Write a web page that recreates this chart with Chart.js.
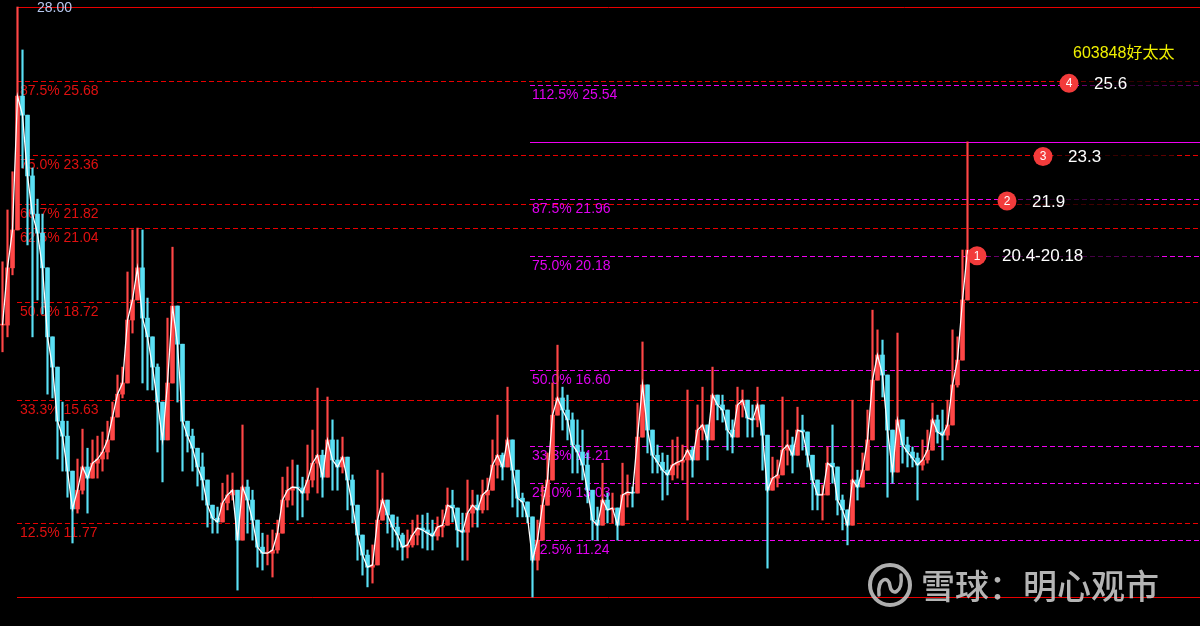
<!DOCTYPE html>
<html><head><meta charset="utf-8">
<script src="https://cdn.jsdelivr.net/npm/chart.js@4.4.1/dist/chart.umd.min.js"></script>
<style>html,body{margin:0;padding:0;background:#000;overflow:hidden;}canvas{display:block;}</style>
</head><body>
<canvas id="c" width="1200" height="626"></canvas>
<script>
const closes=[18.00,19.80,20.99,25.20,24.60,22.69,21.49,20.89,19.80,17.63,
16.68,14.98,14.51,13.41,12.22,12.81,13.54,13.19,13.66,13.79,
14.01,14.39,15.11,15.83,16.18,18.16,18.79,19.80,18.22,17.63,
16.68,15.58,14.39,16.18,18.60,17.40,14.98,14.51,14.13,13.54,
13.13,12.34,11.93,11.81,12.41,12.66,12.81,11.24,12.91,12.50,
11.87,11.02,10.83,10.83,10.93,11.46,12.50,12.81,12.91,12.88,
12.72,13.13,13.66,13.91,13.22,14.39,13.76,13.54,13.85,13.13,
12.34,11.40,10.77,10.39,10.46,11.87,12.50,12.03,11.65,11.40,
11.02,11.09,11.40,11.62,11.56,11.46,11.37,11.65,11.71,12.34,
12.25,11.56,11.49,12.09,12.34,12.19,12.66,12.81,13.60,13.91,
13.54,14.39,13.44,12.56,12.44,11.97,10.61,11.24,12.34,13.13,
15.17,15.71,15.33,15.02,14.23,14.01,13.60,12.81,11.87,11.71,
12.50,12.19,12.25,11.71,12.66,12.75,12.72,14.48,16.12,14.70,
13.91,13.69,13.44,13.29,13.60,13.69,13.76,14.07,13.76,14.70,
14.86,14.39,15.80,15.49,15.33,14.70,14.48,15.49,15.64,15.08,
15.02,15.49,14.54,12.81,13.19,13.29,14.07,14.23,13.91,14.70,
14.64,13.91,13.13,12.66,12.66,13.66,13.54,12.50,12.19,11.71,
13.13,12.91,13.44,14.39,16.27,17.06,16.43,14.70,13.38,15.02,
14.23,14.01,13.82,13.60,13.76,14.07,15.02,14.64,14.54,14.86,
16.12,16.90,18.79,20.36];
const highs=[19.99,21.62,22.82,28.00,26.65,23.76,22.94,21.96,21.49,18.60,
17.63,15.71,15.58,14.98,13.19,13.79,14.73,14.13,14.39,14.51,
14.64,14.98,15.58,16.43,16.68,19.67,20.99,21.05,20.99,18.85,
17.03,16.78,15.58,18.22,20.45,18.60,15.58,14.98,14.73,14.01,
13.98,12.81,12.28,12.28,13.03,13.29,13.35,12.09,14.86,13.13,
12.81,11.56,11.46,11.40,11.56,11.87,13.22,13.54,13.76,13.60,
13.22,14.23,14.70,16.02,14.07,15.74,15.02,14.39,14.48,13.76,
13.29,11.87,11.24,10.93,11.09,13.44,13.35,12.50,12.03,11.97,
11.46,11.56,11.87,12.03,12.03,12.09,11.87,11.97,12.19,12.88,
12.81,12.09,12.09,13.13,12.81,12.66,13.13,13.19,14.39,15.17,
13.98,16.05,14.17,12.81,12.72,12.28,11.65,11.87,12.97,13.98,
16.18,17.37,16.05,15.80,15.24,15.02,14.70,13.98,12.28,12.28,
13.66,12.72,12.72,12.09,13.66,13.29,12.91,15.55,17.47,15.55,
14.29,14.23,13.98,13.91,14.39,14.48,14.23,15.96,14.17,15.49,
16.05,14.70,16.68,15.74,15.80,15.17,15.02,16.05,15.96,15.55,
15.49,16.05,15.33,13.98,13.85,13.76,15.74,14.70,14.48,15.42,
15.17,14.48,13.60,13.13,12.97,14.17,14.86,12.81,12.66,12.09,
15.64,13.44,13.98,15.33,18.47,17.85,17.53,16.27,13.76,17.75,
14.70,14.48,14.17,13.98,14.39,14.70,15.55,15.17,15.33,15.64,
17.85,17.63,20.36,23.76];
const lows=[17.16,17.63,19.58,24.01,22.94,20.52,17.63,18.79,18.35,15.83,
15.71,13.79,13.41,12.59,11.15,12.09,12.69,12.09,13.19,13.19,
13.41,13.79,14.39,15.46,15.71,17.40,17.75,18.85,16.18,15.96,
15.96,14.01,13.07,14.98,17.40,15.58,13.41,14.01,13.41,12.94,
12.50,11.65,11.46,11.46,11.87,12.19,12.50,9.67,11.24,11.46,
11.24,10.39,10.30,10.46,10.08,10.83,12.03,12.28,12.34,11.87,
11.97,12.50,12.91,12.72,12.59,13.54,12.81,12.81,13.35,12.19,
11.78,10.61,10.14,9.77,9.89,10.83,11.87,11.46,11.02,10.93,
10.61,10.68,11.02,11.09,10.99,10.93,10.93,11.24,11.34,11.87,
11.81,11.02,10.61,10.61,11.65,11.65,12.09,12.19,13.13,13.19,
13.13,13.66,12.28,11.97,11.97,11.78,9.45,10.30,11.65,12.50,
13.98,15.21,14.70,14.39,13.35,13.35,13.13,12.41,11.24,11.24,
11.87,11.78,11.78,11.24,12.09,12.28,12.28,13.35,15.55,13.98,
13.35,13.35,12.50,12.66,13.13,13.19,13.13,11.87,13.22,14.17,
14.39,13.76,15.42,15.02,14.95,14.07,13.98,15.02,15.11,14.48,
14.48,14.80,13.44,10.36,12.91,12.91,13.66,13.60,13.35,13.98,
14.07,13.54,12.19,12.19,11.87,12.91,13.03,12.03,11.56,11.09,
12.91,12.50,13.13,13.76,15.64,16.52,15.74,12.59,13.03,13.98,
13.66,13.54,13.54,12.50,13.44,13.66,14.70,14.29,13.76,14.39,
15.33,16.05,17.37,19.73];

const redFibPct=['87.5%','75.0%','66.7%','62.5%','50.0%','33.3%','12.5%'];
const redFibVal=[25.68,23.36,21.82,21.04,18.72,15.63,11.77];
const redHigh=28.00, redLow=9.45;
const magFibPct=['112.5%','87.5%','75.0%','50.0%','33.3%','25.0%','12.5%'];
const magFibVal=[25.54,21.96,20.18,16.60,14.21,13.03,11.24];
const magFull=23.75;
const targetNums=['1','2','3','4'];
const targetTexts=['20.4-20.18','21.9','23.3','25.6'];
const targetVals=[20.18,21.9,23.3,25.6];
const stockTitle='603848好太太';
const watermark='雪球：明心观市';

const UP='#ff4646', DOWN='#5ae0f5';
const opens=closes.map((c,i)=>i===0?c:closes[i-1]);
const colors=closes.map((c,i)=>c>=opens[i]?UP:DOWN);
const wickData=closes.map((c,i)=>[Math.min(lows[i],opens[i],c),Math.max(highs[i],opens[i],c)]);
const bodyData=closes.map((c,i)=>[opens[i],c]);
const labels=closes.map((_,i)=>String(i));

const fibPlugin={
  id:'fib',
  beforeDraw(chart){const c=chart.ctx;c.save();c.fillStyle='#000';c.fillRect(0,0,chart.width,chart.height);c.restore();},
  beforeDatasetsDraw(chart){
    const ctx=chart.ctx, ys=chart.scales.y, W=chart.width;
    const py=v=>Math.round(ys.getPixelForValue(v))+0.5;
    ctx.save();
    ctx.lineWidth=1;
    ctx.strokeStyle='#e80000';
    [redHigh,redLow].forEach(v=>{ctx.beginPath();ctx.moveTo(17,py(v));ctx.lineTo(W,py(v));ctx.stroke();});
    ctx.setLineDash([5,3]);
    redFibVal.forEach(v=>{ctx.beginPath();ctx.moveTo(17,py(v));ctx.lineTo(W,py(v));ctx.stroke();});
    ctx.strokeStyle='#f000f0';
    magFibVal.forEach(v=>{ctx.beginPath();ctx.moveTo(530,py(v));ctx.lineTo(W,py(v));ctx.stroke();});
    ctx.setLineDash([]);
    ctx.beginPath();ctx.moveTo(530,py(magFull));ctx.lineTo(W,py(magFull));ctx.stroke();
    ctx.textBaseline='middle';ctx.textAlign='left';
    ctx.font='14px "Liberation Sans", Arial, sans-serif';
    ctx.fillStyle='#e01010';
    redFibVal.forEach((v,i)=>ctx.fillText(redFibPct[i]+' '+v.toFixed(2),20,py(v)+9.5));
    ctx.fillStyle='#e000f0';
    magFibVal.forEach((v,i)=>ctx.fillText(magFibPct[i]+' '+v.toFixed(2),532,py(v)+9.5));
    ctx.font='14px "Liberation Sans", Arial, sans-serif';
    ctx.fillStyle='#b8c8ee';
    ctx.fillText(redHigh.toFixed(2),37,py(redHigh)+1);
    ctx.restore();
  },
  afterDatasetsDraw(chart){
    const ctx=chart.ctx, ys=chart.scales.y;
    const cxs=[977,1007,1043,1069];
    ctx.save();
    ctx.font='17px "Liberation Sans", Arial, sans-serif';
    targetVals.forEach((v,i)=>{
      const cy=ys.getPixelForValue(v), cx=cxs[i];
      const tx=cx+25, tw=ctx.measureText(targetTexts[i]).width;
      const g=ctx.createLinearGradient(cx+10,0,tx+tw+75,0);
      g.addColorStop(0,'rgba(0,0,0,0.5)');g.addColorStop(0.3,'rgba(0,0,0,0.85)');g.addColorStop(1,'rgba(0,0,0,0.55)');
      ctx.fillStyle=g;ctx.fillRect(cx+10,cy-11,tx+tw+75-(cx+10),22);
      ctx.beginPath();ctx.arc(cx,cy,9.5,0,Math.PI*2);ctx.fillStyle='#f23b3b';ctx.fill();
      ctx.fillStyle='#fff';ctx.textAlign='center';ctx.textBaseline='middle';
      ctx.font='12px "Liberation Sans", Arial, sans-serif';
      ctx.fillText(targetNums[i],cx,cy+0.5);
      ctx.font='17px "Liberation Sans", Arial, sans-serif';
      ctx.textAlign='left';
      ctx.fillText(targetTexts[i],tx,cy+1);
    });
    ctx.fillStyle='#f0f000';ctx.textAlign='left';ctx.textBaseline='middle';
    ctx.font='16px "Liberation Sans", "Noto Sans CJK SC", sans-serif';
    ctx.fillText(stockTitle,1073,54);
    // watermark
    ctx.strokeStyle='rgba(205,205,205,0.85)';ctx.lineWidth=4;
    ctx.beginPath();ctx.arc(890,585,20,0,Math.PI*2);ctx.stroke();
    ctx.lineWidth=3.5;ctx.lineCap='round';
    ctx.beginPath();ctx.moveTo(879,595);ctx.bezierCurveTo(877,578,889,575,890,586);
    ctx.bezierCurveTo(891,596,903,594,901,575);ctx.stroke();
    ctx.fillStyle='rgba(205,205,205,0.88)';
    ctx.font='500 34px "Noto Sans CJK SC", sans-serif';
    ctx.fillText(watermark,921,586);
    ctx.restore();
  }
};

new Chart(document.getElementById('c'),{
  type:'bar',
  data:{labels:labels,datasets:[
    {type:'line',data:closes,borderColor:'#ffffff',borderWidth:1.3,pointRadius:0,tension:0,order:0},
    {type:'bar',data:bodyData,backgroundColor:colors,barThickness:4,grouped:false,minBarLength:1,borderWidth:0,order:1},
    {type:'bar',data:wickData,backgroundColor:colors,barThickness:1.5,grouped:false,borderWidth:0,order:2}
  ]},
  options:{
    responsive:false,animation:false,devicePixelRatio:1,
    layout:{padding:{left:0,right:230,top:0,bottom:0}},
    scales:{
      x:{type:'category',display:false,offset:true},
      y:{type:'linear',display:false,min:8.541,max:28.22}
    },
    plugins:{legend:{display:false},tooltip:{enabled:false}}
  },
  plugins:[fibPlugin]
});
</script>
</body></html>
